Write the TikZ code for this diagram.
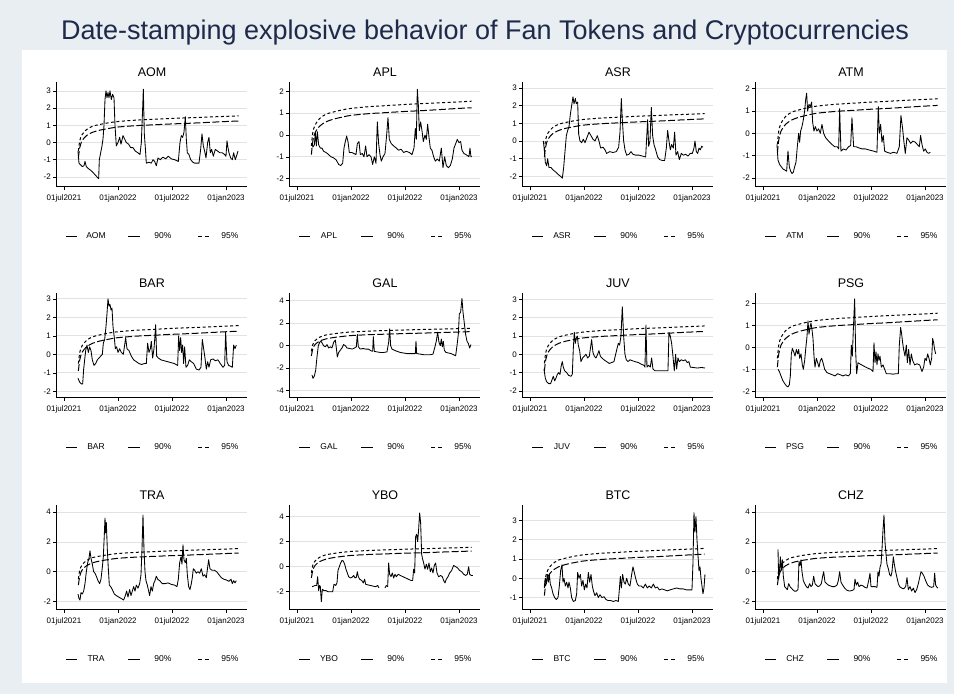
\documentclass[tikz,border=0pt]{standalone}
\usepackage{fontspec}
\setmainfont{Liberation Sans}
\usepackage{xcolor}
\usepackage{tikz}
\usetikzlibrary{positioning}

\definecolor{pagebg}{RGB}{232,238,241}
\definecolor{titlenavy}{RGB}{30,42,74}
\definecolor{gridgray}{RGB}{226,226,226}

% one panel: #1 y-axis x, #2 title y, #3 token, #4 y of zero, #5 px per unit,
% #6 y ticks, #7 shift of the series, #8 the series
\newcommand{\tokenpanel}[8]{%
  \node[paneltitle] (#3-title) at (#1+96,#2) {#3};
  \foreach \tk in {#6}{
    \draw[gridline] (#1,{#4-(\tk)*#5}) -- (#1+191,{#4-(\tk)*#5});
    \draw[axisline] (#1,{#4-(\tk)*#5}) -- ++(-3.5,0) node[ylab] (#3-y\tk) {\tk};
  }
  \draw[axisline] (#1,#2+10) -- (#1,#2+114) -- (#1+191,#2+114);
  \foreach \m/\dt in {0/01jul2021,6/01jan2022,12/01jul2022,18/01jan2023}{
    \draw[axisline] (#1+8+9*\m,#2+114) -- ++(0,4) node[xlab] (#3-x\m) {\dt};
  }
  % critical values, months since 01jul2021
  \begin{scope}[xshift={(#1+8)*1pt}, yshift={-#4*1pt}, x=9pt, y=#5pt]
    \draw[cvninety] plot[smooth] coordinates {(1.6,-0.9) (1.75,-0.3) (2.0,0.1) (2.5,0.4) (3.2,0.6) (4,0.72) (5,0.82) (6,0.9) (8,0.98) (10,1.03) (12,1.08) (14,1.12) (16,1.17) (18,1.22) (19.4,1.25)};
    \draw[cvninetyfive] plot[smooth] coordinates {(1.6,-0.5) (1.75,0.1) (2.0,0.45) (2.5,0.75) (3.2,0.95) (4,1.05) (5,1.15) (6,1.22) (8,1.3) (10,1.35) (12,1.4) (14,1.44) (16,1.48) (18,1.52) (19.4,1.55)};
  \end{scope}
  \begin{scope}[xshift={#7*1pt}, yshift={-#4*1pt}, x=0.3333pt, y=#5pt]
    #8
  \end{scope}
  % legend
  \node[legendtext] (#3-leg) at (#1+40,#2+164) {#3};
  \node[legendtext] (#3-leg90) at (#1+107,#2+164) {90\%};
  \node[legendtext] (#3-leg95) at (#1+174,#2+164) {95\%};
  \draw[series] (#1+10,#2+164) -- (#1+21,#2+164);
  \draw[series, line width=0.9pt] (#1+72,#2+164) -- (#1+84,#2+164);
  \draw[cvninetyfive, dash pattern=on 4pt off 3pt] (#1+142,#2+164) -- (#1+153,#2+164);
}

\begin{document}
\begin{tikzpicture}[x=1pt, y=-1pt]

    \tikzset{
        maintitle/.style={font=\fontsize{27}{32}\selectfont, text=titlenavy},
        paneltitle/.style={font=\fontsize{12.5}{15}\selectfont, inner sep=0pt},
        ylab/.style={anchor=east, inner sep=1.5pt, font=\fontsize{8}{9}\selectfont},
        xlab/.style={anchor=north, inner sep=2pt, yshift=-2pt, font=\fontsize{8}{9}\selectfont},
        legendtext/.style={inner sep=0pt, font=\fontsize{8.5}{10}\selectfont},
        gridline/.style={draw=gridgray, line width=0.8pt},
        axisline/.style={draw=black, line width=0.6pt},
        series/.style={draw=black, line width=0.85pt, line join=round},
        cvninety/.style={draw=black, line width=1pt, dash pattern=on 7pt off 2.5pt},
        cvninetyfive/.style={draw=black, line width=1pt, dash pattern=on 3pt off 2.5pt}
    }

    \useasboundingbox (0,0) rectangle (954,694);
    \fill[pagebg] (0,0) rectangle (954,694);
    \fill[white] (22,50) rectangle (947,683);

    \node[maintitle] (title) at (485,33) {Date-stamping explosive behavior of Fan Tokens and Cryptocurrencies};

    % first row
    \tokenpanel{56}{72}{AOM}{142.5}{17.2}{-2,-1,0,1,2,3}{19.67}{
      \draw[series] plot coordinates {(175,-0.5) (178,-1.2) (183,-1.3) (188,-1.4) (193,-1.35) (196,-1.1) (200,-1.4) (205,-1.5) (212,-1.6) (218,-1.7) (225,-1.85) (232,-2.0) (237,-2.1) (239,-1.0) (243,-0.6) (247,-0.2) (250,0.2) (253,1.0) (256,2.5) (259,3.0) (262,2.6) (265,2.9) (268,2.6) (271,3.0) (275,2.5) (279,2.8) (283,2.6) (286,1.0) (290,-0.2) (295,0.0) (300,0.3) (304,-0.1) (310,0.4) (315,0.2) (320,0.0) (327,-0.1) (333,-0.3) (340,-0.3) (347,-0.5) (355,-0.6) (361,-0.7) (365,0.0) (369,2.0) (371,3.1) (374,0.5) (377,-0.3) (380,-1.2) (388,-1.15) (395,-1.2) (400,-1.0) (405,-1.1) (410,-1.35) (415,-0.9) (422,-1.0) (430,-0.85) (438,-0.95) (446,-0.8) (455,-0.95) (465,-1.0) (476,-1.1) (481,0.0) (485,0.4) (489,0.3) (493,0.6) (497,1.5) (500,0.2) (503,-0.6) (508,-0.7) (513,-1.0) (520,-1.15) (525,-1.2) (538,-1.2) (543,-0.4) (547,0.5) (551,-0.2) (555,-0.5) (559,-0.9) (564,0.0) (568,0.3) (572,-0.6) (576,-0.4) (581,-0.8) (587,-0.4) (594,-0.5) (601,-0.6) (608,-0.6) (615,-0.7) (619,-0.8) (622,0.1) (625,-0.3) (628,-0.6) (633,-0.9) (638,-1.0) (642,-0.6) (647,-1.0) (652,-0.7) (655,-0.5)};
    }
    \tokenpanel{289}{72}{APL}{135}{21.8}{-2,-1,0,1,2}{260.33}{
      \draw[series] plot coordinates {(155,-0.4) (158,-0.55) (162,-0.45) (165,0.1) (168,-0.5) (171,0.15) (175,-0.45) (180,-0.6) (185,-0.6) (190,-0.75) (197,-0.8) (205,-0.9) (212,-1.0) (220,-1.05) (228,-1.15) (235,-1.35) (241,-1.4) (247,-1.3) (251,-0.6) (255,-0.3) (259,-0.05) (263,-0.3) (267,-0.8) (274,-0.8) (281,-0.85) (287,-0.9) (291,-0.4) (296,-0.3) (300,-0.9) (306,-0.85) (311,-1.0) (316,-0.5) (320,-1.0) (326,-0.9) (332,-1.0) (337,-1.35) (342,-1.0) (347,-1.3) (351,0.6) (355,-0.4) (359,-0.9) (363,-1.2) (368,-1.0) (374,-0.85) (379,0.0) (383,0.8) (387,-0.2) (393,-0.4) (400,-0.5) (408,-0.6) (415,-0.7) (422,-0.65) (430,-0.8) (438,-0.75) (447,-0.8) (455,-0.9) (461,-0.6) (465,0.3) (468,-0.2) (471,2.1) (474,1.4) (477,0.2) (481,0.6) (485,0.2) (489,-0.3) (494,0.0) (498,-0.2) (502,0.5) (506,-0.1) (510,-0.6) (515,-0.7) (520,-1.0) (525,-1.2) (531,-1.1) (537,-1.2) (543,-0.6) (548,-1.5) (553,-1.0) (558,-1.4) (564,-1.5) (570,-1.4) (576,-1.1) (581,-0.6) (586,-0.4) (591,-0.2) (596,-0.35) (601,-0.3) (605,-0.7) (611,-0.85) (617,-0.9) (622,-0.95) (626,-1.0) (629,-0.6) (632,-1.0) (635,-1.0)};
    }
    \tokenpanel{522}{72}{ASR}{141}{17.7}{-2,-1,0,1,2,3}{499}{
      \draw[series] plot coordinates {(133,0.0) (136,-0.5) (139,-1.2) (143,-1.4) (146,-1.0) (150,-1.5) (156,-1.5) (163,-1.65) (170,-1.75) (178,-1.9) (185,-2.0) (190,-2.1) (194,-1.5) (198,-0.6) (202,0.3) (206,0.6) (210,0.8) (214,1.5) (218,2.0) (222,2.5) (225,2.1) (229,2.4) (232,2.1) (236,2.2) (239,0.4) (243,0.0) (248,-0.1) (253,0.1) (258,-0.1) (264,0.2) (270,0.5) (276,0.3) (282,0.1) (288,0.0) (295,0.3) (300,0.0) (305,-0.4) (312,-0.35) (318,-0.5) (323,-0.7) (332,-0.6) (342,-0.65) (352,-0.6) (359,-0.35) (363,0.5) (367,2.4) (370,1.2) (374,0.0) (378,-0.5) (383,-0.8) (390,-0.75) (396,-0.6) (402,-0.75) (410,-0.8) (420,-0.8) (430,-0.85) (440,-0.9) (446,1.2) (449,-0.3) (453,0.0) (457,1.9) (461,0.3) (465,-0.2) (470,-0.5) (476,-0.9) (482,-1.05) (490,-1.1) (497,-1.1) (502,-0.4) (506,0.6) (510,0.0) (514,-0.5) (518,-0.2) (523,-0.4) (527,0.5) (531,-0.8) (536,-0.6) (541,-1.05) (547,-0.7) (553,-0.8) (560,-0.75) (567,-0.85) (574,-0.7) (580,-0.7) (585,-0.4) (588,0.0) (592,-0.6) (596,-0.7) (600,-0.4) (604,-0.5) (608,-0.3) (612,-0.35)};
    }
    \tokenpanel{755}{72}{ATM}{133.3}{22.3}{-2,-1,0,1,2}{498.67}{
      \draw[series] plot coordinates {(835,-0.5) (838,-1.2) (843,-1.4) (848,-1.5) (853,-1.6) (859,-1.65) (864,-1.7) (868,-0.8) (872,-1.5) (876,-1.7) (880,-1.8) (884,-1.75) (888,-1.5) (892,-1.3) (896,-0.6) (900,0.0) (903,-0.4) (906,0.1) (910,0.3) (914,0.6) (918,1.0) (921,1.5) (924,1.8) (927,1.0) (931,1.3) (935,1.2) (939,1.4) (942,0.5) (946,0.1) (950,0.3) (955,0.1) (960,0.2) (965,0.0) (970,0.4) (975,0.0) (981,-0.2) (987,-0.3) (993,-0.4) (1000,-0.5) (1008,-0.6) (1016,-0.6) (1020,-0.7) (1023,1.1) (1027,-0.8) (1034,-0.7) (1042,-0.75) (1050,-0.6) (1056,-0.55) (1060,0.7) (1065,-0.6) (1072,-0.6) (1080,-0.65) (1090,-0.7) (1100,-0.7) (1112,-0.75) (1125,-0.8) (1135,-0.85) (1139,1.2) (1142,0.0) (1146,0.4) (1150,-0.4) (1154,-0.1) (1158,-0.8) (1165,-0.85) (1175,-0.9) (1185,-0.85) (1195,-0.9) (1202,-0.6) (1207,0.8) (1212,0.2) (1216,-0.4) (1220,-0.9) (1225,-0.2) (1230,-0.3) (1236,-0.45) (1243,-0.35) (1250,-0.4) (1256,-0.5) (1262,-0.6) (1266,-0.1) (1270,-0.5) (1275,-0.8) (1280,-0.7) (1285,-0.85) (1290,-0.9) (1295,-0.85)};
    }

    % second row
    \tokenpanel{56}{283}{BAR}{354.3}{18.5}{-2,-1,0,1,2,3}{19.67}{
      \draw[series] plot coordinates {(175,-1.3) (180,-1.5) (185,-1.6) (189,-1.6) (192,-0.8) (195,-0.3) (198,0.2) (202,0.5) (206,0.1) (210,0.4) (214,0.2) (218,-0.3) (223,-0.6) (228,-0.5) (233,-0.3) (238,-0.2) (243,-0.1) (248,0.0) (251,0.6) (255,0.8) (259,1.5) (262,2.2) (265,3.0) (268,2.6) (271,2.7) (274,2.4) (277,2.5) (280,1.5) (284,0.9) (287,0.3) (291,0.4) (295,0.1) (300,0.3) (305,0.1) (311,0.0) (315,0.5) (318,0.9) (322,0.3) (328,0.2) (335,-0.1) (342,-0.3) (350,-0.4) (358,-0.5) (366,-0.55) (374,-0.5) (380,-0.5) (384,0.6) (388,0.1) (392,0.3) (395,0.7) (399,-0.2) (403,0.3) (406,1.0) (408,1.6) (411,-0.1) (416,-0.2) (424,-0.3) (434,-0.35) (444,-0.4) (454,-0.45) (464,-0.5) (474,-0.6) (477,1.0) (480,0.2) (483,0.9) (486,0.1) (489,0.5) (492,-0.5) (495,0.4) (499,-0.7) (504,-0.6) (509,-0.3) (515,-0.4) (522,-0.5) (530,-0.8) (538,-0.85) (544,-0.7) (548,0.8) (552,0.3) (556,-0.2) (560,-0.8) (564,-0.4) (568,-0.7) (573,-0.3) (580,-0.25) (587,-0.35) (595,-0.3) (602,-0.5) (610,-0.7) (615,-0.6) (618,1.2) (622,-0.4) (627,-0.6) (633,-0.65) (638,-0.7) (642,0.5) (646,0.3) (650,0.5)};
    }
    \tokenpanel{289}{283}{GAL}{345.7}{11.25}{-4,-2,0,2,4}{260.33}{
      \draw[series] plot coordinates {(155,-2.6) (158,-2.9) (162,-2.7) (166,-2.2) (170,-1.0) (174,0.0) (178,0.3) (182,0.4) (186,0.2) (190,0.0) (195,-0.1) (200,0.1) (205,-0.2) (210,-0.1) (215,-0.2) (220,0.3) (225,0.5) (228,-0.2) (231,-1.0) (235,-0.6) (240,-0.4) (245,-0.2) (250,0.1) (255,0.0) (260,-0.2) (268,-0.25) (276,-0.3) (283,-0.2) (288,-0.1) (291,1.0) (294,-0.1) (300,-0.3) (308,-0.25) (316,-0.3) (324,-0.3) (332,-0.45) (337,-0.5) (339,0.8) (342,-0.5) (350,-0.55) (360,-0.6) (370,-0.6) (380,-0.55) (385,0.3) (388,1.5) (391,0.0) (395,-0.3) (402,-0.4) (410,-0.5) (420,-0.6) (430,-0.65) (440,-0.7) (450,-0.7) (460,-0.7) (465,-0.7) (467,0.4) (469,-0.7) (480,-0.75) (490,-0.8) (500,-0.8) (510,-0.8) (518,-0.75) (523,-0.2) (528,0.4) (532,1.2) (536,0.3) (540,0.0) (543,0.6) (546,-0.1) (549,0.4) (552,-0.4) (557,-0.6) (565,-0.65) (572,-0.7) (580,-0.8) (586,-0.9) (590,0.0) (594,1.0) (597,2.8) (601,3.0) (605,4.2) (608,3.0) (612,2.0) (616,1.0) (620,0.4) (624,0.2) (628,-0.2) (632,0.1)};
    }
    \tokenpanel{522}{283}{JUV}{354.3}{18.3}{-2,-1,0,1,2,3}{260}{
      \draw[series] plot coordinates {(852,-0.8) (856,-1.3) (860,-1.5) (866,-1.6) (872,-1.6) (876,-1.4) (880,-1.2) (884,-1.45) (888,-1.3) (892,-1.1) (896,-1.0) (900,-1.1) (904,-0.6) (907,-0.4) (910,-0.7) (914,-0.9) (920,-1.0) (926,-1.15) (933,-1.2) (937,-1.1) (940,0.3) (943,1.2) (946,0.6) (949,0.9) (952,1.0) (955,0.5) (959,0.2) (963,-0.4) (968,-0.2) (973,-0.1) (978,0.0) (983,-0.2) (988,-0.1) (992,0.4) (995,0.8) (999,0.1) (1003,-0.1) (1008,-0.2) (1013,0.0) (1017,0.2) (1021,-0.1) (1026,-0.2) (1032,-0.3) (1040,-0.4) (1048,-0.5) (1055,-0.45) (1062,-0.4) (1067,0.0) (1071,0.3) (1075,0.6) (1079,0.5) (1083,1.0) (1087,2.6) (1091,1.0) (1095,0.0) (1099,-0.3) (1104,-0.4) (1110,-0.3) (1117,-0.35) (1125,-0.4) (1135,-0.45) (1145,-0.55) (1152,-0.6) (1155,-0.7) (1158,1.6) (1161,-0.7) (1166,-0.6) (1171,-0.7) (1175,-0.2) (1179,-0.8) (1185,-0.9) (1195,-0.9) (1205,-0.9) (1215,-0.9) (1224,-0.9) (1227,1.2) (1231,1.0) (1235,0.6) (1239,-0.1) (1243,-0.9) (1247,0.0) (1250,-0.8) (1254,-0.2) (1258,-0.4) (1264,-0.3) (1270,-0.35) (1276,-0.3) (1282,-0.45) (1287,-0.4) (1291,-0.7) (1300,-0.72) (1312,-0.75) (1325,-0.72) (1335,-0.75)};
    }
    \tokenpanel{755}{283}{PSG}{347.3}{22}{-2,-1,0,1,2}{739.67}{
      \draw[series] plot coordinates {(115,-1.0) (119,-1.1) (124,-1.3) (129,-1.5) (135,-1.65) (140,-1.75) (145,-1.8) (149,-1.7) (152,-1.3) (155,-0.3) (158,-0.05) (162,-0.2) (166,-0.4) (170,-0.1) (174,-0.3) (177,-0.1) (180,-0.5) (184,-0.3) (188,-0.8) (191,-1.0) (195,-0.6) (198,-0.1) (202,0.5) (205,1.2) (208,0.6) (211,0.9) (214,1.1) (217,0.8) (220,0.4) (223,-0.4) (226,-0.9) (230,-0.5) (234,-0.7) (238,-0.9) (242,-0.6) (246,-0.5) (250,-0.7) (255,-1.0) (262,-1.15) (270,-1.2) (278,-1.25) (286,-1.3) (294,-1.2) (302,-1.25) (310,-1.3) (318,-1.25) (326,-1.3) (332,-1.2) (335,0.1) (338,-0.4) (341,0.8) (345,2.2) (348,-0.2) (351,-1.2) (355,-0.7) (360,-0.75) (366,-0.8) (372,-0.85) (378,-0.9) (385,-0.95) (393,-1.0) (400,-1.1) (403,0.2) (406,-0.7) (409,-0.2) (412,-0.8) (415,-0.3) (418,-0.6) (421,-0.4) (425,-0.9) (430,-0.8) (435,-1.0) (440,-1.2) (450,-1.2) (460,-1.22) (470,-1.2) (476,-1.2) (479,0.1) (483,0.9) (486,0.6) (489,0.2) (492,-0.1) (496,-0.4) (500,0.1) (503,-0.7) (507,-0.1) (511,-0.8) (515,-0.3) (519,-0.6) (525,-0.8) (532,-0.75) (540,-0.8) (547,-1.1) (552,-0.9) (556,-0.5) (560,-0.6) (564,-0.3) (568,-0.5) (572,-0.8) (576,-0.5) (579,0.4) (582,0.2) (585,-0.1) (588,-0.3)};
    }

    % third row
    \tokenpanel{56}{495}{TRA}{571.7}{14.9}{-2,0,2,4}{19.67}{
      \draw[series] plot coordinates {(175,-1.5) (178,-1.8) (181,-1.9) (184,-1.4) (188,-1.5) (192,-1.3) (196,-0.8) (200,0.0) (204,0.6) (208,0.9) (211,1.4) (214,0.9) (218,0.5) (222,0.0) (226,-0.1) (230,-0.3) (235,-0.6) (240,-0.8) (244,-0.5) (248,0.3) (251,1.0) (254,2.5) (256,3.6) (258,2.6) (260,3.3) (263,1.5) (266,0.2) (269,-0.9) (273,-1.0) (278,-1.2) (284,-1.5) (290,-1.6) (297,-1.7) (305,-1.8) (312,-1.9) (317,-1.6) (321,-1.3) (325,-1.7) (330,-1.2) (334,-1.6) (338,-1.3) (342,-1.0) (346,-1.3) (350,-0.9) (355,-1.1) (360,-0.8) (364,-0.2) (367,1.5) (370,3.8) (373,1.5) (376,0.0) (379,-0.6) (383,-0.9) (387,-1.3) (390,-1.6) (394,-1.0) (398,-1.3) (402,-0.8) (406,-0.6) (410,-0.3) (414,-0.5) (420,-0.6) (428,-0.8) (436,-0.8) (445,-0.75) (455,-0.85) (465,-0.9) (472,-1.0) (476,-0.5) (480,0.6) (484,1.0) (487,0.5) (490,1.8) (493,0.8) (497,0.6) (500,0.9) (503,-0.2) (507,-1.0) (511,-1.2) (515,-0.8) (518,-0.4) (521,0.2) (525,0.1) (530,-0.1) (535,0.0) (540,-0.1) (545,0.2) (550,-0.3) (555,-0.2) (560,-0.4) (564,0.3) (567,0.8) (571,0.2) (577,0.1) (584,0.1) (591,0.0) (598,-0.2) (605,-0.4) (612,-0.5) (620,-0.55) (628,-0.65) (634,-0.5) (638,-0.8) (642,-0.6) (646,-0.75) (650,-0.6)};
    }
    \tokenpanel{289}{495}{YBO}{566.7}{12.5}{-2,0,2,4}{260.33}{
      \draw[series] plot coordinates {(155,-1.6) (160,-1.55) (165,-1.5) (169,-1.5) (172,-0.8) (175,-1.9) (178,-1.5) (180,-1.6) (183,-2.8) (186,-1.8) (190,-1.9) (196,-1.9) (203,-2.0) (210,-2.0) (217,-2.0) (221,-1.4) (226,-1.5) (230,-1.3) (233,-0.3) (237,0.0) (241,0.3) (245,0.5) (249,0.45) (253,0.2) (257,-0.2) (261,-0.5) (265,-0.8) (270,-0.9) (275,-0.85) (280,-0.7) (284,-0.9) (288,-0.85) (291,-0.4) (294,-0.8) (298,-1.0) (304,-1.1) (309,-1.3) (313,-1.0) (316,-1.4) (322,-1.45) (330,-1.5) (338,-1.55) (346,-1.6) (352,-1.5) (356,-1.7)};
      \draw[series] plot coordinates {(374,-1.7) (378,-1.5) (382,-1.6) (385,0.3) (388,-0.6) (392,-0.8) (396,-0.5) (400,-0.9) (404,-0.6) (408,-0.8) (414,-0.6) (420,-0.7) (428,-0.8) (436,-0.9) (444,-1.0) (452,-1.1) (457,-1.1) (460,-0.2) (463,-0.5) (466,2.4) (469,2.6) (472,2.0) (475,3.0) (478,4.3) (481,3.5) (484,1.0) (487,0.6) (490,0.3) (494,-0.2) (498,0.2) (502,-0.2) (506,0.3) (510,-0.4) (514,-0.1) (518,-0.5) (522,0.1) (526,0.3) (530,-0.5) (535,-0.8) (541,-0.7) (546,-0.8) (550,-1.1) (554,-1.3) (558,-1.0) (563,-0.8) (568,-0.5) (574,-0.3) (580,0.1) (586,0.0) (592,-0.1) (598,-0.3) (604,-0.4) (610,-0.6) (616,-0.7) (621,-0.6) (625,0.0) (628,-0.6) (633,-0.7) (638,-0.7)};
    }
    \tokenpanel{522}{495}{BTC}{578.3}{19.3}{-1,0,1,2,3}{500}{
      \draw[series] plot coordinates {(133,-0.4) (136,0.0) (139,-0.3) (142,0.2) (145,-0.2) (148,0.2) (151,-0.3) (155,-0.5) (159,-0.8) (164,-1.0) (169,-1.1) (174,-1.0) (178,-0.4) (182,0.4) (186,0.7) (189,-0.2) (192,0.0) (196,-0.4) (200,-0.2) (204,-0.5) (207,-0.2) (211,-0.5) (215,-1.0) (220,-1.2) (226,-1.15) (230,-0.8) (233,0.3) (237,0.0) (241,0.2) (245,-0.4) (249,-0.1) (253,-0.6) (257,-0.3) (261,-0.5) (265,0.3) (269,-0.2) (273,0.2) (277,-0.4) (281,-0.7) (285,-0.9) (290,-0.75) (295,-1.0) (300,-0.85) (306,-1.0) (312,-0.95) (318,-1.1) (324,-1.15) (332,-1.15) (340,-1.2) (348,-1.15) (355,-1.2) (358,-0.6) (361,0.1) (364,-0.5) (368,0.2) (372,-0.2) (376,-0.3) (380,0.0) (385,-0.3) (390,-0.4) (395,0.2) (399,0.6) (403,0.3) (407,0.0) (412,-0.3) (417,-0.4) (424,-0.4) (430,-0.5) (436,-0.3) (442,-0.5) (448,-0.4) (454,-0.5) (460,-0.3) (466,-0.5) (472,-0.45) (478,-0.6) (486,-0.55) (494,-0.6) (502,-0.65) (510,-0.6) (520,-0.55) (530,-0.5) (540,-0.55) (550,-0.55) (560,-0.6) (570,-0.6) (576,-0.6) (579,0.8) (582,3.4) (585,2.4) (588,3.2) (591,2.0) (594,1.2) (597,0.4) (600,0.6) (603,0.0) (606,-0.4) (609,-0.8) (612,-0.5) (615,0.2)};
    }
    \tokenpanel{755}{495}{CHZ}{571.7}{14.9}{-2,0,2,4}{739.67}{
      \draw[series] plot coordinates {(115,1.5) (117,-0.5) (120,0.2) (122,1.0) (125,0.1) (128,0.8) (131,-0.3) (135,-1.0) (139,-1.1) (143,-1.2) (147,-0.8) (151,-1.0) (155,-1.1) (159,-1.2) (164,-1.3) (170,-1.3) (175,-1.2) (178,0.7) (181,0.4) (184,0.8) (187,0.0) (191,-0.6) (195,-0.8) (200,-1.0) (205,-1.1) (210,-0.8) (214,-1.0) (218,-0.9) (222,-0.3) (226,-0.8) (230,-0.9) (235,-1.0) (240,-0.95) (245,-0.8) (249,-0.3) (252,0.0) (256,-0.7) (261,-0.8) (266,-0.9) (272,-0.95) (278,-1.0) (285,-1.0) (292,-0.9) (296,-0.6) (300,0.0) (304,-0.7) (309,-0.9) (315,-1.1) (322,-1.25) (330,-1.3) (338,-1.25) (343,-1.2) (346,-0.5) (350,-0.9) (354,-0.7) (358,-1.0) (364,-0.9) (370,-0.95) (376,-1.05) (382,-1.1) (388,-0.5) (391,-0.1) (394,-1.0) (400,-1.0) (406,-1.0) (412,-1.05) (415,0.0) (418,-0.3) (421,0.3) (424,0.5) (427,1.5) (430,2.8) (433,3.8) (436,2.0) (439,1.2) (442,0.5) (446,0.2) (450,-0.2) (454,-0.3) (457,0.0) (461,1.0) (464,0.5) (468,0.0) (472,-0.4) (476,-0.8) (480,-1.0) (486,-1.1) (492,-1.15) (498,-1.0) (502,-0.4) (506,-1.2) (511,-1.0) (516,-1.3) (521,-1.1) (526,-1.4) (531,-1.2) (536,-0.8) (540,-0.4) (544,0.0) (548,-0.1) (553,-0.3) (558,-0.6) (564,-0.9) (570,-1.0) (576,-1.05) (582,-1.0) (585,-0.1) (588,-0.9) (592,-1.05) (595,-1.1)};
    }

\end{tikzpicture}
\end{document}
